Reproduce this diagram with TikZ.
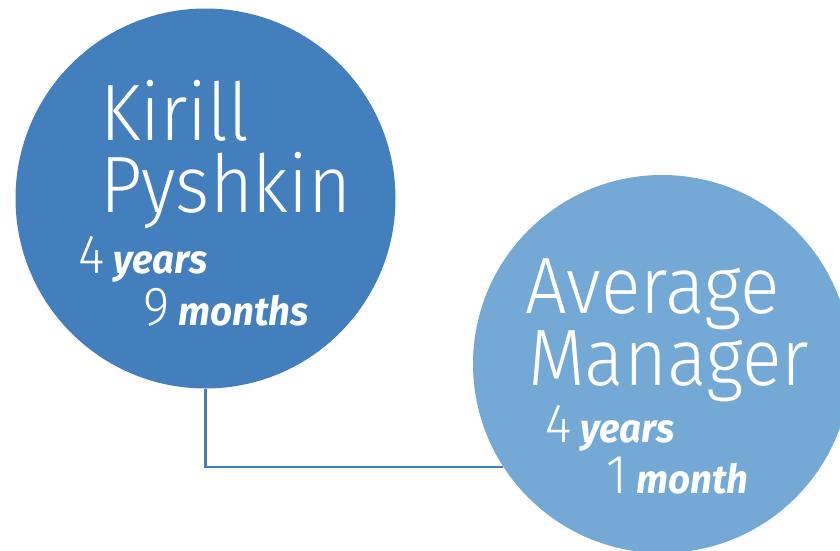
\documentclass[tikz,border=0pt]{standalone}
\usepackage{fontspec}
\usetikzlibrary{backgrounds}
\setmainfont{Fira Sans}
\newfontfamily\lightf{Fira Sans Light}[FakeStretch=0.92]
\newfontfamily\boldit{Fira Sans Bold Italic}[FakeStretch=0.96]
\begin{document}
\begin{tikzpicture}[x=1pt,y=-1pt,
  bubble/.style={circle,inner sep=0pt,minimum size=#1},
  bigline/.style={anchor=base west,inner sep=0pt,text=white,font=\lightf\fontsize{80}{80}\selectfont},
  spanline/.style={anchor=base west,inner sep=0pt,text=white,font=\lightf\fontsize{55}{55}\selectfont},
  link/.style={draw=darkblue,line width=2.4pt}]
\definecolor{darkblue}{RGB}{67,127,189}
\definecolor{lightblue}{RGB}{116,169,214}
\newcommand{\unitword}[1]{{\boldit\fontsize{40}{40}\selectfont #1}}
\useasboundingbox (0,0) rectangle (840,551);
\begin{scope}
\clip (0,0) rectangle (840,551);
% the two circles
\node[bubble=380pt,fill=darkblue] (kp) at (205.5,198.5) {};
\node[bubble=378pt,fill=lightblue] (am) at (662,364) {};
% elbow connector, kept beneath the circles
\begin{scope}[on background layer]
\draw[link] (kp.south) |- (am.213);
\end{scope}
\end{scope}
% labels of the first circle
\node[bigline] (kp1) at (100,140) {Kirill};
\node[bigline] (kp2) at (100,212) {Pyshkin};
\node[spanline] (kp3) at (78,273) {4\,\unitword{years}};
\node[spanline] (kp4) at (143,325) {9\,\unitword{months}};
% labels of the second circle
\node[bigline] (am1) at (525,313) {Average};
\node[bigline] (am2) at (528,385) {Manager};
\node[spanline] (am3) at (545,442) {4\,\unitword{years}};
\node[spanline] (am4) at (606,493) {1\,\unitword{month}};
\end{tikzpicture}
\end{document}
